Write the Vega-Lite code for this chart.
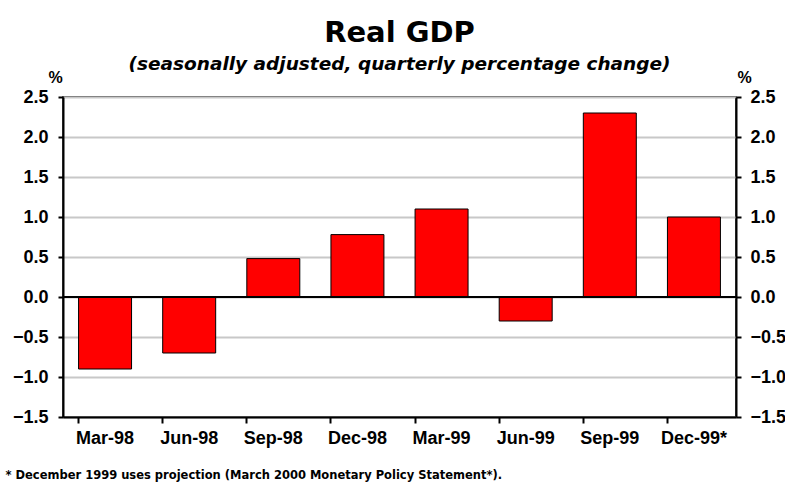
{
  "$schema": "https://vega.github.io/schema/vega-lite/v6.json",
  "width": 673,
  "height": 320,
  "autosize": {"type": "none"},
  "padding": {"left": 63, "top": 97, "right": 49, "bottom": 65},
  "background": "white",
  "config": {
    "font": "DejaVu Sans",
    "view": {"stroke": "black", "strokeWidth": 1.5},
    "axis": {"labelFont": "Liberation Sans", "titleFont": "Liberation Sans"}
  },
  "title": {
    "text": "Real GDP",
    "subtitle": "(seasonally adjusted, quarterly percentage change)",
    "anchor": "middle",
    "font": "DejaVu Sans",
    "fontSize": 29,
    "fontWeight": "bold",
    "color": "black",
    "subtitleFont": "DejaVu Sans",
    "subtitleFontSize": 18.5,
    "subtitleFontWeight": "bold",
    "subtitleFontStyle": "italic",
    "subtitleColor": "black",
    "subtitlePadding": 7,
    "offset": -4
  },
  "data": {
    "values": [
      {"quarter": "Mar-98", "value": -0.9},
      {"quarter": "Jun-98", "value": -0.7},
      {"quarter": "Sep-98", "value": 0.48},
      {"quarter": "Dec-98", "value": 0.78},
      {"quarter": "Mar-99", "value": 1.1},
      {"quarter": "Jun-99", "value": -0.3},
      {"quarter": "Sep-99", "value": 2.3},
      {"quarter": "Dec-99*", "value": 1.0}
    ]
  },
  "layer": [
    {
      "mark": {"type": "bar", "color": "#ff0000", "stroke": "black", "strokeWidth": 1},
      "encoding": {
        "x": {
          "field": "quarter",
          "type": "nominal",
          "sort": null,
          "scale": {"paddingInner": 0.37, "paddingOuter": 0.185},
          "axis": {
            "title": "* December 1999 uses projection (March 2000 Monetary Policy Statement*).",
            "titleFont": "DejaVu Sans",
            "titleFontSize": 11.5,
            "titleFontWeight": "bold",
            "titleColor": "black",
            "titleAnchor": "start",
            "titleAlign": "left",
            "titleX": -58,
            "titleY": 52,
            "labelAngle": 0,
            "labelFontSize": 18,
            "labelFontWeight": "bold",
            "labelColor": "black",
            "labelPadding": 6,
            "bandPosition": 0,
            "tickSize": 6,
            "tickWidth": 2,
            "tickColor": "black",
            "domainColor": "black",
            "domainWidth": 2,
            "grid": false
          }
        },
        "y": {
          "field": "value",
          "type": "quantitative",
          "scale": {"domain": [-1.5, 2.5], "nice": false},
          "axis": {
            "values": [-1.5, -1.0, -0.5, 0, 0.5, 1.0, 1.5, 2.0, 2.5],
            "format": ".1f",
            "title": "%",
            "titleAngle": 0,
            "titleAlign": "center",
            "titleBaseline": "bottom",
            "titleX": -8,
            "titleY": -12,
            "titleFontSize": 16,
            "titleFontWeight": "bold",
            "titleColor": "black",
            "labelFontSize": 18,
            "labelFontWeight": "bold",
            "labelColor": "black",
            "labelPadding": 10,
            "tickSize": 5,
            "tickWidth": 2,
            "tickColor": "black",
            "domainColor": "black",
            "domainWidth": 2,
            "grid": true,
            "gridColor": "#c8c8c8",
            "gridWidth": 2
          }
        }
      }
    },
    {
      "mark": {"type": "rule", "color": "black", "strokeWidth": 2},
      "encoding": {
        "y": {
          "datum": 0,
          "type": "quantitative",
          "scale": {"domain": [-1.5, 2.5], "nice": false},
          "axis": {
            "orient": "right",
            "values": [-1.5, -1.0, -0.5, 0, 0.5, 1.0, 1.5, 2.0, 2.5],
            "format": ".1f",
            "title": "%",
            "titleAngle": 0,
            "titleAlign": "center",
            "titleBaseline": "bottom",
            "titleX": 8,
            "titleY": -12,
            "titleFontSize": 16,
            "titleFontWeight": "bold",
            "titleColor": "black",
            "labelFontSize": 18,
            "labelFontWeight": "bold",
            "labelColor": "black",
            "labelPadding": 9,
            "tickSize": 5,
            "tickWidth": 2,
            "tickColor": "black",
            "domainColor": "black",
            "domainWidth": 2,
            "grid": false
          }
        }
      }
    }
  ],
  "resolve": {"axis": {"y": "independent"}, "scale": {"y": "shared"}}
}
